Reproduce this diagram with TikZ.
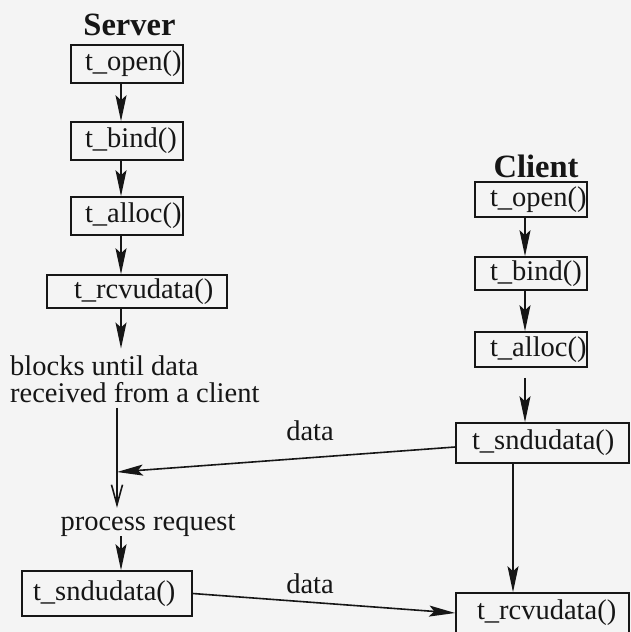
\documentclass[tikz,border=0pt]{standalone}
\usepackage{fontspec}
\setmainfont{LiberationSerif}[Extension=.ttf, UprightFont=*-Regular, BoldFont=*-Bold,
  ItalicFont=*-Italic, BoldItalicFont=*-BoldItalic]
\usetikzlibrary{arrows.meta}

\definecolor{paper}{HTML}{F4F4F4}
\definecolor{ink}{HTML}{161616}

\tikzset{
  txt/.style={font=\fontsize{28.5}{27}\selectfont, text=ink, inner sep=0pt},
  head/.style={font=\fontsize{32.5}{34}\selectfont\bfseries, text=ink, inner sep=0pt, anchor=base},
  % call box: #1 = text width, #2 = left/right padding, #3 = box height
  callbox/.style n args={3}{draw=ink, line width=1.6pt, txt, text width=#1,
    inner xsep=#2, inner ysep=0pt, align=left, minimum height=#3},
  flow/.style={draw=ink, line width=1.6pt, -{Stealth[length=26pt,width=11pt,inset=5pt]}},
  merge/.style={draw=ink, line width=1.6pt, -{Straight Barb[length=20pt,width=11pt]}},
}

\begin{document}
\begin{tikzpicture}[x=1pt, y=-1pt]
  \useasboundingbox (0,0) rectangle (631,632);
  \fill[paper] (0,0) rectangle (631,632);
  \clip (0,0) rectangle (631,632);

  % guide columns for the vertical connectors
  \coordinate (scol) at (121,0);
  \coordinate (jcol) at (117,0);
  \coordinate (ccol) at (525,0);
  \coordinate (c2col) at (513,0);

  % server side
  \node[head] (server) at (129.5,35) {Server};
  \node[callbox={84pt}{14pt}{38pt}] (sopen) at (127,64) {t\_open()};
  \node[callbox={84pt}{14pt}{38pt}] (sbind) at (127,141) {t\_bind()};
  \node[callbox={84pt}{14pt}{38pt}] (salloc) at (127,216) {t\_alloc()};
  \node[callbox={126pt}{27pt}{33pt}] (srcv) at (137,291.5) {t\_rcvudata()};
  \node[txt, anchor=north west, align=left] (blocks) at (10,355.5)
    {blocks until data\\received from a client};
  \node[txt, anchor=base] (proc) at (148,530) {process request};
  \node[callbox={148pt}{11pt}{45pt}] (ssnd) at (107,593.5) {t\_sndudata()};

  % client side
  \node[head] (client) at (536,177) {Client};
  \node[callbox={82pt}{15pt}{35pt}] (copen) at (531,199.5) {t\_open()};
  \node[callbox={82pt}{15pt}{33pt}] (cbind) at (531,273.5) {t\_bind()};
  \node[callbox={82pt}{15pt}{35pt}] (calloc) at (531,349.5) {t\_alloc()};
  \node[callbox={141pt}{16pt}{40pt}] (csnd) at (542.5,443) {t\_sndudata()};
  \node[callbox={131pt}{21pt}{40pt}] (crcv) at (542.5,613) {t\_rcvudata()};

  % server flow
  \draw[flow] (sopen.south -| scol) -- (sbind.north -| scol);
  \draw[flow] (sbind.south -| scol) -- (salloc.north -| scol);
  \draw[flow] (salloc.south -| scol) -- (srcv.north -| scol);
  \draw[flow, shorten >=7pt] (srcv.south -| scol) -- (blocks.north -| scol);
  \draw[merge, shorten <=5pt, shorten >=6pt] (blocks.south -| jcol) -- (proc.north -| jcol);
  \draw[flow] (proc.south -| scol) -- (ssnd.north -| scol);

  % client flow
  \draw[flow] (copen.south -| ccol) -- (cbind.north -| ccol);
  \draw[flow] (cbind.south -| ccol) -- (calloc.north -| ccol);
  \draw[flow, shorten <=10pt] (calloc.south -| ccol) -- (csnd.north -| ccol);
  \draw[flow] (csnd.south -| c2col) -- (crcv.north -| c2col);

  % datagrams between the two
  \coordinate (j) at (117,472);
  \draw[flow] ([yshift=-4pt]csnd.west) -- (j);
  \node[txt, anchor=base] (d1) at (310,440) {data};
  \draw[flow] (ssnd.east) -- (crcv.west);
  \node[txt, anchor=base] (d2) at (310,593) {data};
\end{tikzpicture}
\end{document}
